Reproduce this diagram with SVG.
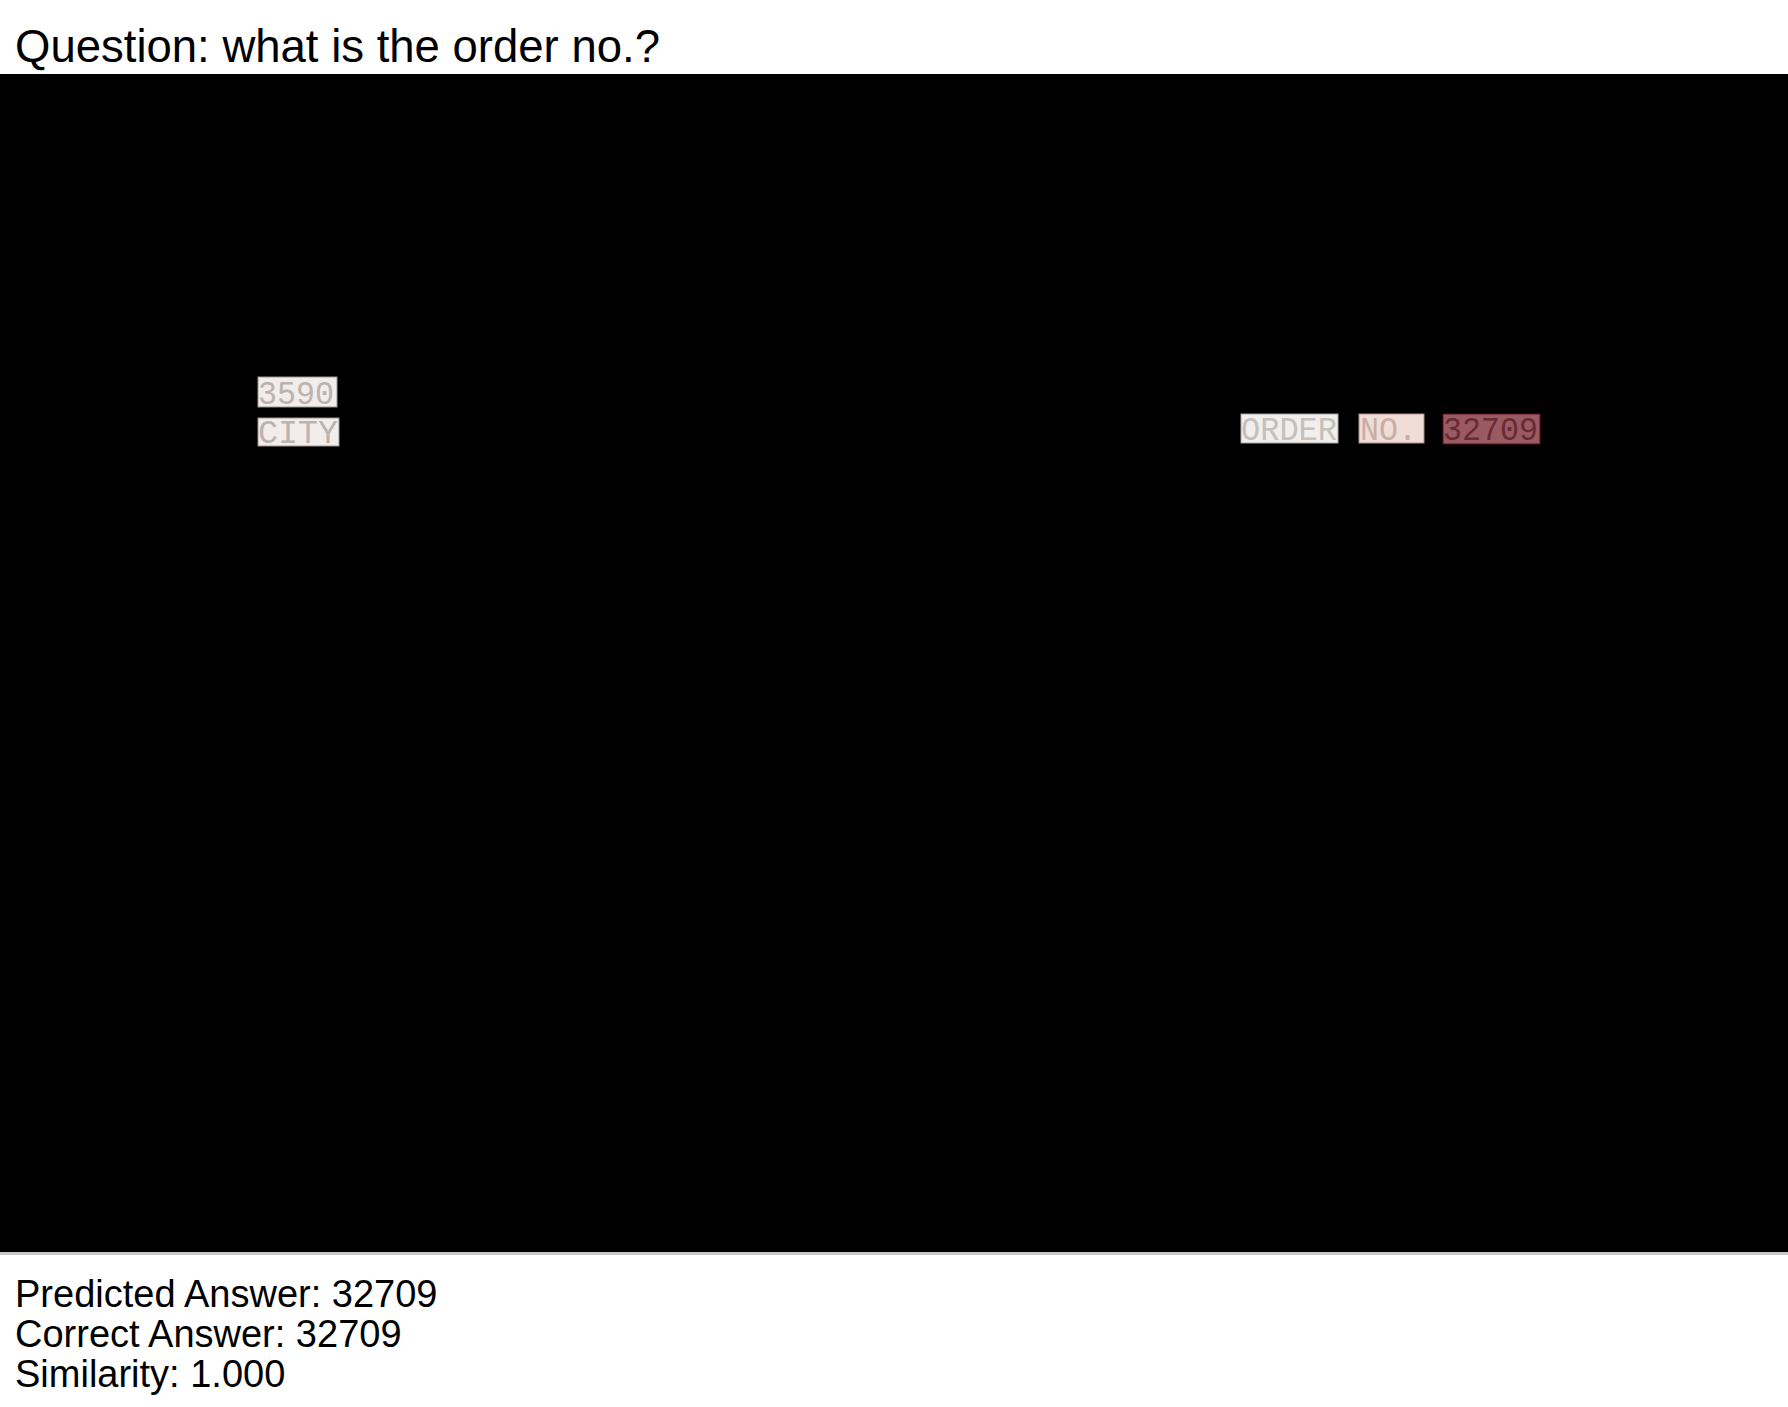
<svg xmlns="http://www.w3.org/2000/svg" width="1788" height="1407" viewBox="0 0 1788 1407">
<style>
.lbl{font-family:"Liberation Sans",Arial,sans-serif;fill:#000}
.ocr{font-family:"Liberation Mono","Courier New",monospace;font-size:33px}
</style>
<rect x="0" y="0" width="1788" height="1407" fill="#ffffff"/>
<text class="lbl" x="15" y="62" font-size="45.5">Question: what is the order no.?</text>
<rect x="0" y="74" width="1788" height="1178" fill="#000000"/>
<rect x="0" y="1252" width="1788" height="3" fill="#c8c8c8"/>
<g id="w3590">
<rect x="258" y="377" width="79" height="30" fill="#f2ecea" stroke="#9a9594" stroke-width="1"/>
<text class="ocr" x="258" y="404" fill="#bab3b1" textLength="76" lengthAdjust="spacingAndGlyphs">3590</text>
</g>
<g id="wcity">
<rect x="258" y="418" width="81" height="28" fill="#f2ecea" stroke="#9a9594" stroke-width="1"/>
<text class="ocr" x="258" y="443" fill="#bab3b1" textLength="80" lengthAdjust="spacingAndGlyphs">CITY</text>
</g>
<g id="worder">
<rect x="1241" y="414" width="97" height="29" fill="#f1efed" stroke="#a8a4a0" stroke-width="1"/>
<text class="ocr" x="1241" y="440" fill="#c4c0bc" textLength="96" lengthAdjust="spacingAndGlyphs">ORDER</text>
</g>
<g id="wno">
<rect x="1359" y="414" width="65" height="29" fill="#f0ddd5" stroke="#b09088" stroke-width="1"/>
<text class="ocr" x="1360" y="440" fill="#c8aea6" textLength="57" lengthAdjust="spacingAndGlyphs">NO.</text>
</g>
<g id="wnum">
<rect x="1443" y="414" width="97" height="30" fill="#9a5a62" stroke="#5a1018" stroke-width="1"/>
<text class="ocr" x="1443" y="440" fill="#6a2a35" textLength="95" lengthAdjust="spacingAndGlyphs">32709</text>
</g>
<text class="lbl" x="15" y="1307" font-size="38">Predicted Answer: 32709</text>
<text class="lbl" x="15" y="1347" font-size="38">Correct Answer: 32709</text>
<text class="lbl" x="15" y="1387" font-size="38">Similarity: 1.000</text>
</svg>
